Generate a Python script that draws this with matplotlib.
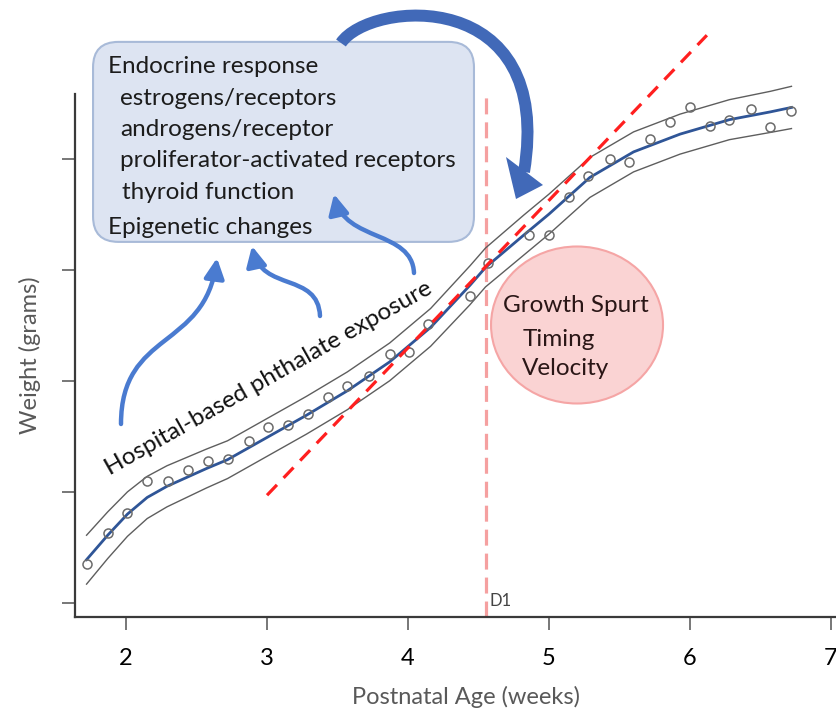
import numpy as np
import matplotlib
matplotlib.use("Agg")
import matplotlib.pyplot as plt
from matplotlib.patches import FancyBboxPatch, Ellipse, FancyArrowPatch, PathPatch, Polygon
from matplotlib.path import Path
from matplotlib.transforms import Affine2D

plt.rcParams['font.family'] = ['Lato', 'DejaVu Sans']

# one weight reading per day (postnatal age in weeks, weight in grid units)
age = [1.72, 1.87, 2.01, 2.15, 2.30, 2.44, 2.58, 2.72, 2.87, 3.01, 3.15, 3.29,
       3.43, 3.57, 3.72, 3.87, 4.01, 4.14, 4.44, 4.57, 4.86, 5.00, 5.14, 5.28,
       5.43, 5.57, 5.72, 5.86, 6.00, 6.14, 6.28, 6.43, 6.57, 6.72]
weight = [0.35, 0.63, 0.81, 1.10, 1.10, 1.20, 1.28, 1.30, 1.46, 1.58, 1.60, 1.70,
          1.85, 1.95, 2.04, 2.24, 2.26, 2.51, 2.76, 3.06, 3.31, 3.31, 3.65, 3.84,
          4.00, 3.97, 4.18, 4.33, 4.46, 4.29, 4.35, 4.45, 4.28, 4.43]

# smoothed growth curve and half-width of its band
curve_age = [1.72, 1.87, 2.01, 2.15, 2.29, 2.43, 2.57, 2.72, 3.00, 3.28, 3.57, 3.87,
             4.16, 4.44, 4.55, 4.82, 5.00, 5.29, 5.60, 5.93, 6.28, 6.57, 6.72]
curve_weight = [0.39, 0.61, 0.80, 0.95, 1.05, 1.13, 1.21, 1.29, 1.49, 1.69, 1.91, 2.17,
                2.48, 2.86, 3.02, 3.31, 3.50, 3.83, 4.06, 4.22, 4.35, 4.42, 4.46]
band_half = [0.22, 0.21, 0.20, 0.19, 0.185, 0.18, 0.175, 0.17, 0.17, 0.17, 0.17, 0.17,
             0.17, 0.175, 0.175, 0.18, 0.18, 0.18, 0.18, 0.18, 0.18, 0.185, 0.19]

# tangent at the growth spurt (D1)
tangent_age = [3.00, 6.12]
tangent_weight = [0.97, 5.11]
d1_age = 4.55
d1_top = 4.62

x_ticks = [2, 3, 4, 5, 6, 7]
y_ticks = [0, 1, 2, 3, 4]

box_lines = ["Endocrine response", "estrogens/receptors", "androgens/receptor",
             "proliferator-activated receptors", "thyroid function", "Epigenetic changes"]
box_line_x = [1.872, 1.957, 1.957, 1.957, 1.972, 1.872]
box_line_y = [4.770, 4.482, 4.203, 3.924, 3.636, 3.321]

spurt_lines = ["Growth Spurt", "Timing", "Velocity"]
spurt_x = [4.674, 4.816, 4.809]
spurt_y = [2.619, 2.313, 2.052]

W, H = 837, 713
fig = plt.figure(figsize=(W / 100, H / 100), dpi=100)
ax = fig.add_axes([75 / W, (H - 617) / H, (W - 75) / W, 617 / H])
ax.set_xlim(1.638, 7.043)
ax.set_ylim(-0.126, 5.427)

cw = np.array(curve_weight)
bh = np.array(band_half)

ax.plot([d1_age, d1_age], [-0.126, d1_top], color='#f5a0a0', lw=2.3,
        ls=(0, (5, 2.5)), zorder=1)
ax.plot(curve_age, cw + bh, color='#5e5e5e', lw=1.0, zorder=2, solid_joinstyle='round')
ax.plot(curve_age, cw - bh, color='#5e5e5e', lw=1.0, zorder=2, solid_joinstyle='round')
ax.plot(curve_age, cw, color='#2f5597', lw=2.0, zorder=3, solid_joinstyle='round')
ax.plot(age, weight, 'o', mfc='none', mec='#6b6b6b', ms=6.5, mew=1.1, zorder=4)
ax.plot(tangent_age, tangent_weight, color='#ff1f1f', lw=2.3, ls=(0, (4.5, 3)), zorder=5)
ax.text(d1_age + 0.025, -0.03, "D1", fontsize=12, color='#444444', va='baseline')

for sp in ['top', 'right']:
    ax.spines[sp].set_visible(False)
ax.spines['left'].set_bounds(-0.126, 4.58)
for sp in ['left', 'bottom']:
    ax.spines[sp].set_color('#3a3a3a')
    ax.spines[sp].set_linewidth(1.6)
ax.set_xticks(x_ticks)
ax.set_yticks(y_ticks)
ax.tick_params(axis='both', length=9.5, width=1.4, color='#777777')
ax.tick_params(axis='y', labelleft=False)
ax.tick_params(axis='x', pad=13, labelsize=17)

fig.text(466 / W, 1 - 697 / H, "Postnatal Age (weeks)", ha='center', va='center',
         fontsize=17, color='#595959')
fig.text(30 / W, 1 - 355 / H, "Weight (grams)", ha='center', va='center',
         rotation=90, fontsize=17, color='#595959')

# summary box
box = FancyBboxPatch((1.766, 3.25), 2.702, 1.80, boxstyle="round,pad=0,rounding_size=0.18",
                     mutation_aspect=141 / 111.1, fc='#dde4f2', ec='#a8bad8', lw=1.5, zorder=6)
ax.add_patch(box)
for txt, x, y in zip(box_lines, box_line_x, box_line_y):
    ax.text(x, y, txt, fontsize=17.5, color='#1c1c1c', va='baseline', zorder=7)

# growth spurt bubble
ax.add_patch(Ellipse((5.199, 2.502), 1.220, 1.413, fc='#fad3d3', ec='#f5a5a5', lw=1.5, zorder=6))
for txt, x, y in zip(spurt_lines, spurt_x, spurt_y):
    ax.text(x, y, txt, fontsize=17.5, color='#2a1616', va='baseline', zorder=7)

ax.text(1.887, 1.143, "Hospital-based phthalate exposure", fontsize=17.5, color='#111111',
        rotation=29.5, rotation_mode='anchor', ha='left', va='baseline', zorder=7)

# arrows, laid out in pixel units from the top-left corner
img = Affine2D().scale(1 / W, -1 / H).translate(0, 1) + fig.transFigure
C4 = Path.CURVE4

big = Path([(341, 43), (370, 0), (555, -15), (524, 172)], [Path.MOVETO, C4, C4, C4])
fig.add_artist(PathPatch(big, transform=img, fill=False, ec='#4169b8', lw=8.6,
                         capstyle='butt', zorder=8))
fig.add_artist(Polygon([(506, 157), (543, 185), (516, 199)], closed=True,
                       transform=img, fc='#4169b8', ec='none', zorder=8))

thin = [
    [(121, 424), (121, 330), (205, 350), (217, 258)],
    [(320, 316), (318, 272), (262, 292), (252, 246)],
    [(414, 273), (412, 230), (345, 242), (334, 194)],
]
for pts in thin:
    p = Path(pts, [Path.MOVETO, C4, C4, C4])
    fig.add_artist(FancyArrowPatch(path=p, transform=img,
                                   arrowstyle='-|>,head_length=1.2,head_width=0.6',
                                   mutation_scale=10, color='#4a7bd0', lw=3.2, zorder=8))

fig.savefig("out.png", dpi=100)
